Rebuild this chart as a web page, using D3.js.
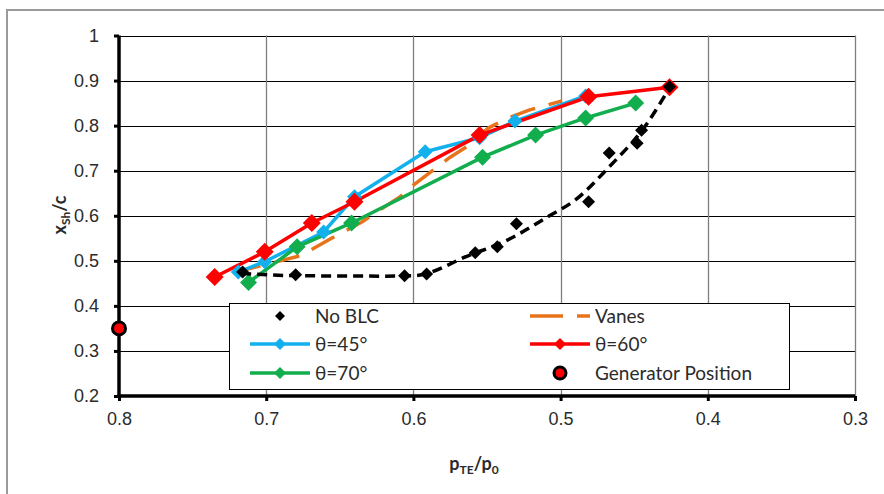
<!DOCTYPE html>
<html>
<head>
<meta charset="utf-8">
<script src="https://cdn.jsdelivr.net/npm/d3@7"></script>
<style>
  body { margin: 0; background: #fff; }
  svg { display: block; font-family: Lato, "Open Sans", sans-serif; }
</style>
</head>
<body>
<div id="chart"></div>
<script>
// values
const noBlcP   = [0.716, 0.680, 0.606, 0.591, 0.558, 0.543, 0.530, 0.481, 0.467, 0.448, 0.445, 0.426];
const noBlcXsh = [0.475, 0.469, 0.467, 0.471, 0.518, 0.531, 0.582, 0.631, 0.739, 0.761, 0.790, 0.886];

// dashed black trend line
const noBlcTrendP   = [0.717, 0.680, 0.620, 0.600, 0.560, 0.540, 0.507, 0.490, 0.468, 0.441, 0.426];
const noBlcTrendXsh = [0.472, 0.467, 0.466, 0.467, 0.515, 0.540, 0.601, 0.635, 0.705, 0.806, 0.884];

const vanesP   = [0.721, 0.677, 0.655, 0.635, 0.626, 0.609, 0.600, 0.584, 0.575, 0.562, 0.549, 0.534, 0.521, 0.499];
const vanesXsh = [0.475, 0.511, 0.551, 0.586, 0.606, 0.642, 0.668, 0.708, 0.730, 0.757, 0.795, 0.819, 0.835, 0.855];

const theta45P   = [0.719, 0.701, 0.661, 0.640, 0.592, 0.555, 0.531, 0.483];
const theta45Xsh = [0.475, 0.498, 0.564, 0.642, 0.742, 0.773, 0.810, 0.866];

const theta60P   = [0.735, 0.701, 0.669, 0.640, 0.555, 0.481, 0.426];
const theta60Xsh = [0.464, 0.520, 0.584, 0.631, 0.779, 0.864, 0.885];

const theta70P   = [0.712, 0.679, 0.642, 0.553, 0.517, 0.483, 0.449];
const theta70Xsh = [0.452, 0.531, 0.584, 0.730, 0.779, 0.817, 0.850];

const generatorP   = [0.8];
const generatorXsh = [0.35];

const xTicks = [0.8, 0.7, 0.6, 0.5, 0.4, 0.3];
const yTicks = [0.2, 0.3, 0.4, 0.5, 0.6, 0.7, 0.8, 0.9, 1];

const width = 884;
const height = 494;
const plot = { left: 119, right: 855, top: 35.5, bottom: 396 };

const zip = (ps, xs) => ps.map((p, i) => ({ p, xsh: xs[i] }));

const series = [
  { name: "No BLC", data: zip(noBlcP, noBlcXsh), color: "#000", line: null, marker: 6.5 },
  { name: "Vanes", data: zip(vanesP, vanesXsh), color: "#E8731A", line: "26 14", marker: 0 },
  { name: "θ=45°", data: zip(theta45P, theta45Xsh), color: "#13B0EE", line: "solid", marker: 7.5 },
  { name: "θ=60°", data: zip(theta60P, theta60Xsh), color: "#FF0000", line: "solid", marker: 9 },
  { name: "θ=70°", data: zip(theta70P, theta70Xsh), color: "#12AE4E", line: "solid", marker: 8.5 },
  { name: "Generator Position", data: zip(generatorP, generatorXsh), color: "#FF0000", line: null, marker: 0, circle: true }
];

const x = d3.scaleLinear([0.8, 0.3], [plot.left, plot.right]);
const y = d3.scaleLinear([0.2, 1], [plot.bottom, plot.top]);

const svg = d3.select("#chart").append("svg")
  .attr("width", width)
  .attr("height", height);

// outer chart frame
svg.append("rect")
  .attr("x", 7).attr("y", 10)
  .attr("width", 900).attr("height", 500)
  .attr("fill", "none")
  .attr("stroke", "#9a9a9a")
  .attr("stroke-width", 2);

const diamond = r => `M0,${-r}L${r},0L0,${r}L${-r},0Z`;

const grid = selection => {
  selection.append("g")
    .selectAll("line")
    .data(yTicks.slice(1))
    .join("line")
    .attr("x1", plot.left).attr("x2", plot.right)
    .attr("y1", d => Math.round(y(d)) + 0.5).attr("y2", d => Math.round(y(d)) + 0.5)
    .attr("stroke", "#000")
    .attr("stroke-width", 1);
  selection.append("g")
    .selectAll("line")
    .data(xTicks.slice(1))
    .join("line")
    .attr("x1", d => Math.round(x(d)) + 0.5).attr("x2", d => Math.round(x(d)) + 0.5)
    .attr("y1", plot.top).attr("y2", plot.bottom)
    .attr("stroke", "#7f7f7f")
    .attr("stroke-width", 1.3);
};

const axes = selection => {
  let yAxis = d3.axisLeft(y).tickValues(yTicks).tickSize(5).tickPadding(15).tickFormat(d => String(d));
  let xAxis = d3.axisBottom(x).tickValues(xTicks).tickSize(5).tickPadding(11).tickFormat(d => String(d));
  selection.append("g")
    .attr("transform", `translate(${plot.left},0)`)
    .call(yAxis)
    .call(g => g.select(".domain").attr("stroke-width", 3.5).attr("d", `M0,${plot.bottom + 1.5}V${plot.top}`))
    .call(g => g.selectAll(".tick line").attr("stroke-width", 3))
    .call(g => g.selectAll("text").attr("font-size", 18).attr("fill", "#2b2b2b"));
  selection.append("g")
    .attr("transform", `translate(0,${plot.bottom})`)
    .call(xAxis)
    .call(g => g.select(".domain").attr("stroke-width", 3.5).attr("d", `M${plot.left - 1.5},0H${plot.right}`))
    .call(g => g.selectAll(".tick line").attr("stroke-width", 3))
    .call(g => g.selectAll("text").attr("font-size", 18).attr("fill", "#2b2b2b"));
};

const titles = selection => {
  let yt = selection.append("text")
    .attr("transform", "translate(66,215) rotate(-90)")
    .attr("text-anchor", "middle")
    .attr("font-size", 18).attr("font-weight", "bold").attr("fill", "#2b2b2b");
  yt.append("tspan").text("x");
  yt.append("tspan").attr("font-size", 12).attr("dy", 4).text("Sh");
  yt.append("tspan").attr("dy", -4).text("/c");
  let xt = selection.append("text")
    .attr("x", 474).attr("y", 470)
    .attr("text-anchor", "middle")
    .attr("font-size", 18).attr("font-weight", "bold").attr("fill", "#2b2b2b");
  xt.append("tspan").text("p");
  xt.append("tspan").attr("font-size", 12).attr("dy", 4).text("TE");
  xt.append("tspan").attr("dy", -4).text("/p");
  xt.append("tspan").attr("font-size", 12).attr("dy", 4).text("0");
};

const lines = selection => {
  let line = d3.line().x(d => x(d.p)).y(d => y(d.xsh));
  let drawn = series.filter(s => s.line);
  selection.append("g")
    .selectAll("path")
    .data(drawn)
    .join("path")
    .attr("fill", "none")
    .attr("stroke", d => d.color)
    .attr("stroke-width", 3.5)
    .attr("stroke-linejoin", "round")
    .attr("stroke-dasharray", d => d.line === "solid" ? null : d.line)
    .attr("d", d => line(d.data));
};

const markers = selection => {
  selection.append("g")
    .selectAll("g")
    .data(series.filter(s => s.marker > 0 && s.name !== "No BLC"))
    .join("g")
    .selectAll("path")
    .data(s => s.data.map(d => ({ ...d, s })))
    .join("path")
    .attr("transform", d => `translate(${x(d.p)},${y(d.xsh)})`)
    .attr("d", d => diamond(d.s.marker))
    .attr("fill", d => d.s.color);
};

const noBlc = selection => {
  let s = series[0];
  let trend = d3.line().curve(d3.curveMonotoneX).x(d => x(d.p)).y(d => y(d.xsh));
  selection.append("path")
    .attr("fill", "none")
    .attr("stroke", "#000")
    .attr("stroke-width", 3.5)
    .attr("stroke-dasharray", "10 6")
    .attr("d", trend(zip(noBlcTrendP, noBlcTrendXsh)));
  selection.append("g")
    .selectAll("path")
    .data(s.data)
    .join("path")
    .attr("transform", d => `translate(${x(d.p)},${y(d.xsh)})`)
    .attr("d", diamond(s.marker))
    .attr("fill", "#000");
};

const generator = selection => {
  let s = series[5];
  selection.append("g")
    .selectAll("circle")
    .data(s.data)
    .join("circle")
    .attr("cx", d => x(d.p)).attr("cy", d => y(d.xsh))
    .attr("r", 6.5)
    .attr("fill", s.color)
    .attr("stroke", "#000")
    .attr("stroke-width", 3);
};

const legend = selection => {
  let g = selection.append("g");
  g.append("rect")
    .attr("x", 229.5).attr("y", 303.5)
    .attr("width", 560).attr("height", 86)
    .attr("fill", "#fff")
    .attr("stroke", "#000");
  let cols = [280, 560];
  let rows = [316, 344, 373];
  let item = g.selectAll("g.item")
    .data(series)
    .join("g")
    .attr("class", "item")
    .attr("transform", (d, i) => `translate(${cols[i % 2]},${rows[Math.floor(i / 2)]})`);
  item.filter(d => d.line === "solid")
    .append("line")
    .attr("x1", -30).attr("x2", 30)
    .attr("stroke", d => d.color).attr("stroke-width", 3.5);
  item.filter(d => d.line && d.line !== "solid")
    .append("line")
    .attr("x1", -30).attr("x2", 30)
    .attr("stroke", d => d.color).attr("stroke-width", 3.5)
    .attr("stroke-dasharray", "33 14");
  item.filter(d => d.marker > 0)
    .append("path")
    .attr("d", d => diamond(d.name === "No BLC" ? 5 : 6))
    .attr("fill", d => d.color);
  item.filter(d => d.circle)
    .append("circle")
    .attr("r", 6).attr("fill", d => d.color)
    .attr("stroke", "#000").attr("stroke-width", 3);
  item.append("text")
    .attr("x", 35).attr("dy", "0.36em")
    .attr("font-size", 19).attr("fill", "#2b2b2b")
    .text(d => d.name);
};

svg.call(grid)
  .call(lines)
  .call(markers)
  .call(noBlc)
  .call(axes)
  .call(generator)
  .call(legend)
  .call(titles);
</script>
</body>
</html>
